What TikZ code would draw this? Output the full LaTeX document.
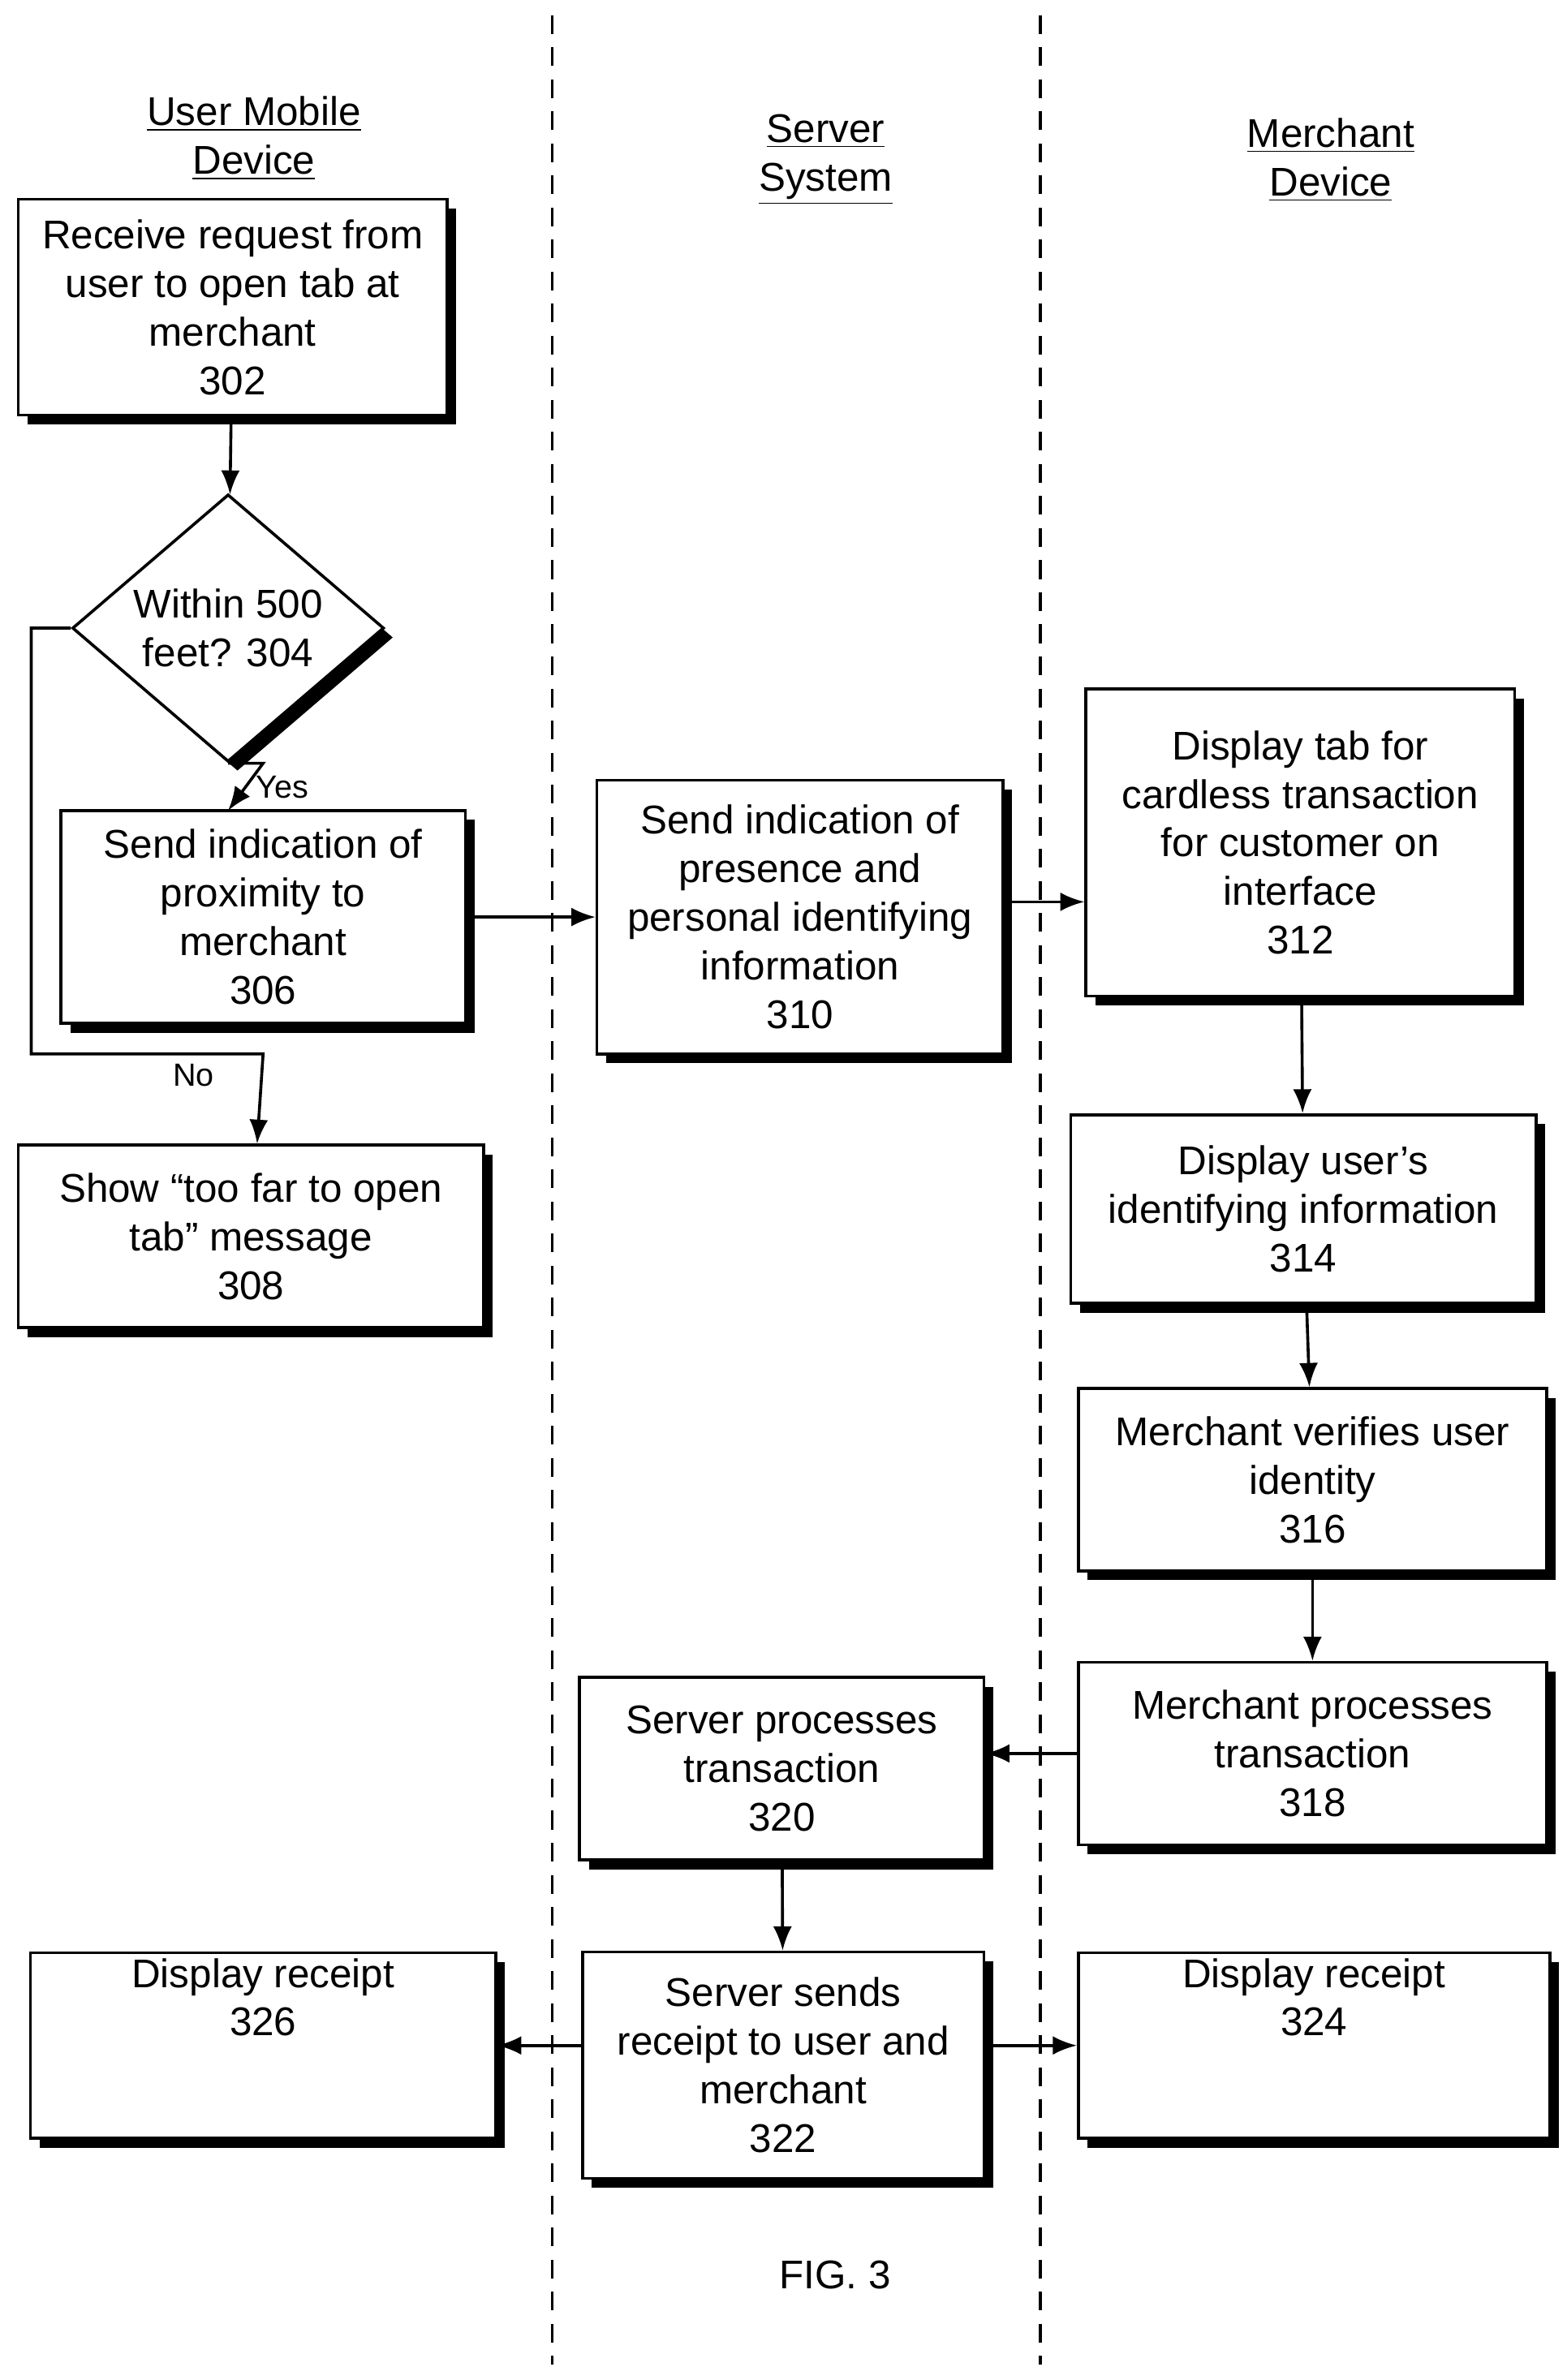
\documentclass[tikz,border=0pt]{standalone}
\usepackage{fontspec}
\setmainfont{Liberation Sans}
\usetikzlibrary{shapes.geometric,shadows,arrows.meta}
\begin{document}
\begin{tikzpicture}[x=0.02cm,y=-0.02cm,
  box/.style={draw,line width=1.1pt,fill=white,align=center,inner sep=2pt,
    drop shadow={fill=black,opacity=1,shadow xshift=3.5pt,shadow yshift=-3.5pt},
    font=\fontsize{15}{18.2}\selectfont},
  head/.style={align=center,font=\fontsize{15}{18.2}\selectfont},
  lane/.style={line width=1.1pt,dash pattern=on 7pt off 5pt},
  arr/.style={line width=1.1pt,-{Latex[length=9pt,width=7pt]}},
  lbl/.style={font=\fontsize{12}{14}\selectfont}]
\useasboundingbox (0,0) rectangle (1030,1565);
% swim lanes
\draw[lane] (363,10) -- (363,1555);
\draw[lane] (684,10) -- (684,1555);
\node[head] (huser) at (167,91) {\underline{User Mobile}\\\underline{Device}};
\node[head] (hserver) at (543,105) {\underline{Server}\\\underline{System}};
\node[head] (hmerch) at (875,105) {\underline{Merchant}\\\underline{Device}};
% steps
\node[box,minimum width=5.64cm,minimum height=2.84cm] (n302) at (153,202) {Receive request from\\user to open tab at\\merchant\\302};
\node[box,shape=diamond,minimum width=4.1cm,minimum height=2.6cm,inner sep=0pt] (n304) at (150,413) {Within 500\\feet? 304};
\node[box,minimum width=5.32cm,minimum height=2.8cm] (n306) at (173,603) {Send indication of\\proximity to\\merchant\\306};
\node[box,minimum width=6.12cm,minimum height=2.4cm] (n308) at (165,813) {Show “too far to open\\tab” message\\308};
\node[box,minimum width=5.34cm,minimum height=3.6cm] (n310) at (526,603) {Send indication of\\presence and\\personal identifying\\information\\310};
\node[box,minimum width=5.64cm,minimum height=4.04cm] (n312) at (855,554) {Display tab for\\cardless transaction\\for customer on\\interface\\312};
\node[box,minimum width=6.12cm,minimum height=2.48cm] (n314) at (857,795) {Display user’s\\identifying information\\314};
\node[box,minimum width=6.16cm,minimum height=2.4cm] (n316) at (863,973) {Merchant verifies user\\identity\\316};
\node[box,minimum width=6.16cm,minimum height=2.4cm] (n318) at (863,1153) {Merchant processes\\transaction\\318};
\node[box,minimum width=5.32cm,minimum height=2.4cm] (n320) at (514,1163) {Server processes\\transaction\\320};
\node[box,minimum width=5.28cm,minimum height=2.98cm] (n322) at (515,1358) {Server sends\\receipt to user and\\merchant\\322};
\node[box,minimum width=6.2cm,minimum height=2.44cm] (n324) at (864,1345) {Display receipt\\324\\[18pt]};
\node[box,minimum width=6.12cm,minimum height=2.44cm] (n326) at (173,1345) {Display receipt\\326\\[18pt]};
\node[head] (fig) at (549,1496) {FIG. 3};
% connectors
\coordinate (nocorner) at (173,693);
\draw[arr] (n302) -- (n304);
\draw[arr] (n304.south) -- (n304.south -| n306.north) -- (150,533) node[lbl,pos=0.5,right] {Yes};
\draw[arr] (n304.west) -- ++(-26,0) |- (nocorner) node[lbl,pos=0.85,below] {No} -- (n308);
\draw[arr] (n306.east) -- (n306.east -| n310.west);
\draw[arr] (n310.east |- 0,593) -- (n312.west |- 0,593);
\draw[arr] (n312) -- (n314);
\draw[arr] (n314) -- (n316);
\draw[arr] (n316) -- (n318);
\draw[arr] (n318.west) -- (n318.west -| n320.east);
\draw[arr] (n320) -- (n322);
\draw[arr] (n322.west |- n326.east) -- (n326.east);
\draw[arr] (n322.east |- n324.west) -- (n324.west);
\end{tikzpicture}
\end{document}
